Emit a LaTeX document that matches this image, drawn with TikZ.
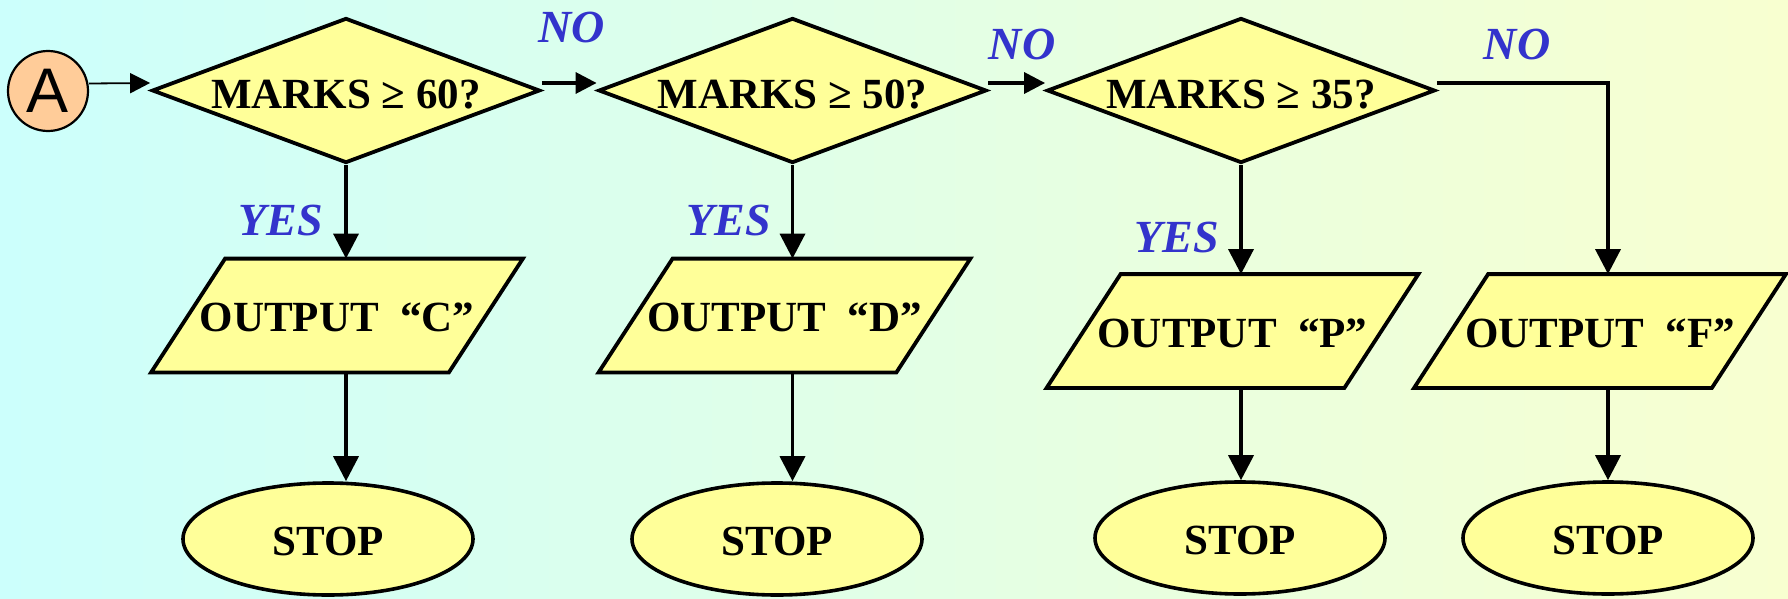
\documentclass[tikz,border=0pt]{standalone}
\usepackage{fontspec}
\setmainfont{Liberation Serif}
\newfontfamily\sansA{Liberation Sans}
\usetikzlibrary{shapes.geometric,arrows.meta,backgrounds,calc}
\definecolor{bgL}{RGB}{204,255,252}
\definecolor{bgR}{RGB}{248,255,208}
\definecolor{boxY}{RGB}{255,255,153}
\definecolor{circO}{RGB}{255,204,153}
\definecolor{lblB}{RGB}{51,51,204}
\begin{document}
\begin{tikzpicture}[x=0.5pt,y=-0.5pt,
  mainfont/.style={font=\bfseries\fontsize{21.5}{24}\selectfont},
  dec/.style={diamond, draw, line width=1.9pt, fill=boxY, inner sep=0pt,
    shape aspect=2.67, minimum width=194pt, minimum height=72.5pt,
    text height=18pt, text depth=0pt, mainfont},
  outtxt/.style={rectangle, inner sep=0pt, minimum width=148.5pt,
    minimum height=56.5pt, text height=16pt, text depth=0pt, mainfont},
  pbox/.style={draw, line width=1.9pt, fill=boxY, line join=miter},
  term/.style={ellipse, draw, line width=1.8pt, fill=boxY, inner sep=0pt,
    minimum width=145pt, minimum height=56pt, text height=16pt, text depth=0pt, mainfont},
  lbl/.style={text=lblB, font=\bfseries\itshape\fontsize{23}{26}\selectfont,
    inner sep=0pt, anchor=base},
  varr/.style={line width=1.8pt, -{Triangle[length=12.5pt,width=12.5pt]}},
  harr/.style={line width=1.7pt, -{Triangle[length=10.5pt,width=10.5pt]}},
  thinarr/.style={line width=0.9pt, -{Triangle[length=10pt,width=10pt]}},
]
\useasboundingbox (0,0) rectangle (1788,599);
\begin{scope}[on background layer]
  \shade[left color=bgL, right color=bgR] (0,0) rectangle (1788,599);
\end{scope}

% start connector
\node[circle, draw, line width=1.1pt, fill=circO, minimum size=40pt, inner sep=0pt,
  font=\sansA\fontsize{31.5}{34}\selectfont] (A) at (48,91) {A};

% decisions
\node[dec] (d1) at (346,90.5) {MARKS ≥ 60?};
\node[dec] (d2) at (792.5,90.5) {MARKS ≥ 50?};
\node[dec] (d3) at (1241,90.5) {MARKS ≥ 35?};

% outputs
\node[outtxt] (oC) at (337,315.5) {OUTPUT~~“C”};
\node[outtxt] (oD) at (784.5,315.5) {OUTPUT~~“D”};
\node[outtxt] (oP) at (1232.5,331) {OUTPUT~~“P”};
\node[outtxt] (oF) at (1600,331) {OUTPUT~~“F”};

\begin{scope}[on background layer]
  \foreach \n in {oC,oD,oP,oF}
    \draw[pbox] ([xshift=-18.5pt]\n.south west) -- ([xshift=-18.5pt]\n.south east)
      -- ([xshift=18.5pt]\n.north east) -- ([xshift=18.5pt]\n.north west) -- cycle;
\end{scope}

% terminals
\node[term] (s1) at (328,539) {STOP};
\node[term] (s2) at (777,539) {STOP};
\node[term] (s3) at (1240,538) {STOP};
\node[term] (s4) at (1608,538) {STOP};

% labels
\node[lbl] (no1) at (572,43) {NO};
\node[lbl] (no2) at (1022,60) {NO};
\node[lbl] (no3) at (1517,60) {NO};
\node[lbl] (y1) at (281,235) {YES};
\node[lbl] (y2) at (728.5,235) {YES};
\node[lbl] (y3) at (1176.5,252) {YES};

% connectors
\draw[thinarr] ([yshift=3.75pt]A.east) -- ([yshift=3.75pt]d1.west);
\draw[harr] ([yshift=3.75pt]d1.east) -- ([yshift=3.75pt]d2.west);
\draw[harr] ([yshift=3.75pt]d2.east) -- ([yshift=3.75pt]d3.west);
\draw[varr] ([yshift=3.75pt]d3.east) -| (s4.north |- oF.north);

\draw[varr] (d1.south) -- (d1.south |- oC.north);
\draw[varr] (d2.south) -- (d2.south |- oD.north);
\draw[varr] (d3.south) -- (d3.south |- oP.north);

\draw[varr] (d1.south |- oC.south) -- (d1.south |- s1.north);
\draw[varr] (d2.south |- oD.south) -- (d2.south |- s2.north);
\draw[varr] (d3.south |- oP.south) -- (d3.south |- s3.north);
\draw[varr] (s4.north |- oF.south) -- (s4.north);
\end{tikzpicture}
\end{document}
